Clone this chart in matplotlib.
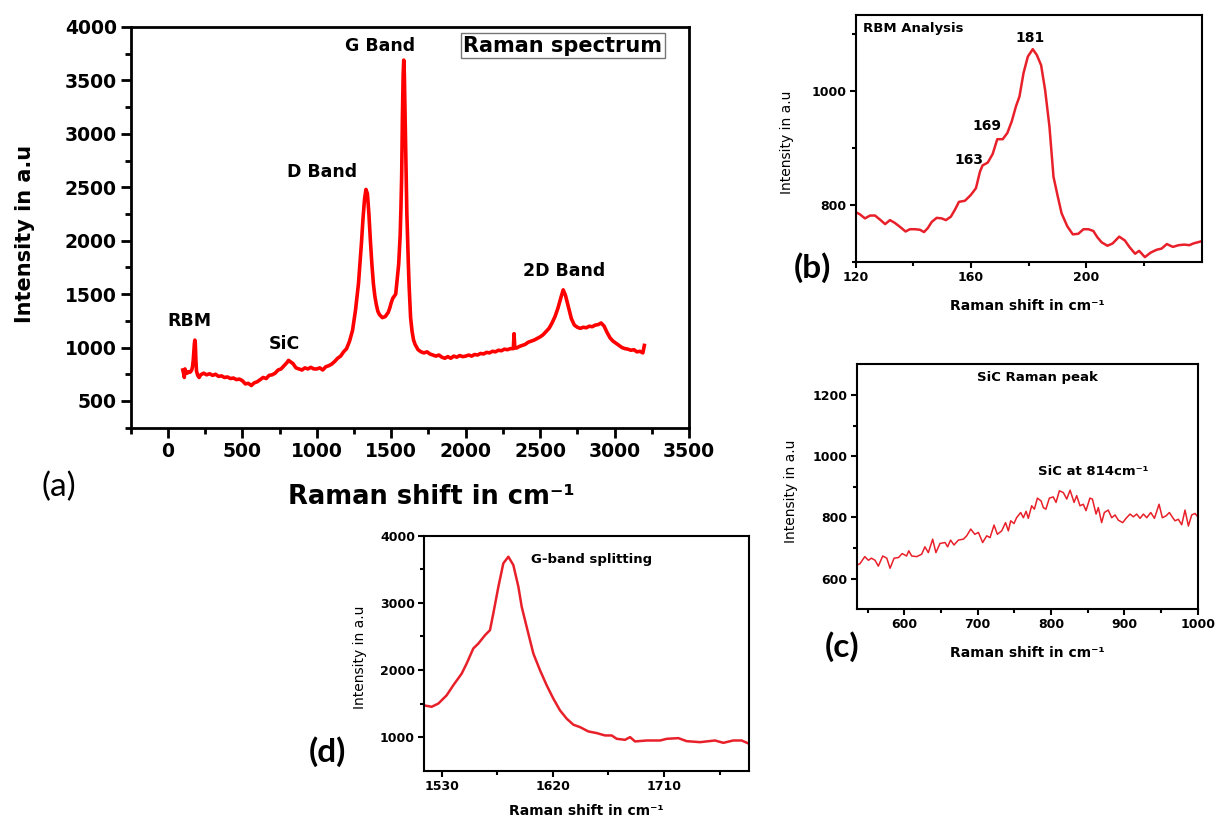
import matplotlib
matplotlib.use("Agg")
import matplotlib.pyplot as plt
from matplotlib.ticker import MultipleLocator, FixedLocator

# ---- data ----
# (a) full Raman spectrum
shift_a = [100, 105, 110, 115, 120, 130, 140, 150, 160, 165, 170, 175, 178, 181, 184, 188, 192,
           200, 210, 220, 240, 260, 280, 300, 320, 340, 360, 380, 400, 420, 440, 460, 480, 500,
           520, 540, 560, 580, 600, 620, 640, 660, 680, 700, 720, 740, 760, 780, 800, 810, 820,
           830, 840, 860, 880, 900, 920, 940, 960, 980, 1000, 1020, 1040, 1060, 1080, 1100, 1120,
           1140, 1160, 1180, 1200, 1220, 1240, 1260, 1280, 1300, 1310, 1320, 1330, 1340, 1350,
           1360, 1370, 1380, 1390, 1400, 1410, 1420, 1440, 1460, 1470, 1480, 1490, 1500, 1510,
           1520, 1530, 1540, 1550, 1560, 1565, 1570, 1575, 1580, 1584, 1588, 1592, 1596, 1600,
           1605, 1610, 1615, 1620, 1630, 1640, 1650, 1660, 1680, 1700, 1720, 1740, 1760, 1780,
           1800, 1820, 1840, 1860, 1880, 1900, 1920, 1940, 1960, 1980, 2000, 2020, 2040, 2060,
           2080, 2100, 2120, 2140, 2160, 2180, 2200, 2220, 2240, 2260, 2280, 2300, 2320, 2325,
           2330, 2340, 2360, 2380, 2400, 2420, 2440, 2460, 2480, 2500, 2520, 2540, 2560, 2580,
           2600, 2620, 2640, 2655, 2670, 2690, 2710, 2730, 2750, 2770, 2790, 2810, 2830, 2850,
           2870, 2890, 2910, 2930, 2950, 2970, 2990, 3010, 3030, 3050, 3070, 3090, 3110, 3130,
           3150, 3170, 3190, 3200]
inten_a = [790, 760, 720, 800, 770, 760, 775, 770, 790, 820, 880, 980, 1040, 1070, 1040, 880, 780,
           740, 720, 745, 760, 745, 755, 740, 750, 730, 735, 720, 725, 710, 715, 700, 705, 690,
           660, 665, 645, 670, 680, 700, 720, 710, 740, 745, 760, 790, 800, 830, 860, 880, 870,
           860, 850, 810, 800, 790, 810, 800, 815, 800, 800, 810, 790, 820, 830, 845, 870,
           900, 920, 960, 990, 1060, 1160, 1350, 1600, 1980, 2200, 2380, 2480, 2440, 2250,
           2000, 1780, 1600, 1480, 1400, 1340, 1310, 1280, 1290, 1310, 1330, 1370, 1420, 1460,
           1480, 1500, 1640, 1780, 2050, 2300, 2600, 3150, 3550, 3690, 3560, 3250, 2900, 2600,
           2250, 2000, 1780, 1580, 1280, 1150, 1070, 1030, 980, 960, 950, 960, 940, 930,
           920, 930, 910, 900, 915, 900, 920, 910, 925, 915, 920, 930, 920, 935,
           930, 945, 940, 955, 950, 965, 960, 975, 970, 985, 980, 990, 990, 1130,
           1000, 995, 1010, 1020, 1030, 1050, 1060, 1070, 1085, 1100, 1120, 1150, 1180, 1230,
           1290, 1370, 1470, 1540, 1490, 1380, 1270, 1210, 1190, 1180, 1190, 1185, 1200, 1195,
           1210, 1215, 1230, 1200, 1140, 1090, 1060, 1040, 1020, 1000, 990, 985, 975, 980,
           960, 965, 950, 1020]

# (b) RBM region
shift_b = [120, 121.5, 123.2, 125, 126.7, 128.4, 130.2, 131.9, 133.6, 135.4, 137.3, 138.8, 140.6,
           142.3, 143.7, 145, 146.4, 148.1, 149.8, 151.3, 153, 154.5, 155.8, 157.9, 159.9, 161.7,
           163.1, 164, 165.8, 167.5, 169.1, 171, 172.6, 174.1, 175.6, 176.8, 178.2, 179.7, 181.4,
           182.8, 184.3, 185.7, 187.2, 188.6, 190.1, 191.4, 193.4, 195.3, 197.2, 199, 200.7, 202.4,
           203.8, 205.3, 207.3, 209.1, 211.4, 213.4, 214.9, 216.9, 218.3, 220.3, 222.3, 224.4,
           226.1, 227.9, 230, 232, 234, 235.7, 237.1, 240]
inten_b = [787, 783, 776, 781, 781, 774, 766, 773, 768, 761, 753, 757, 757,
           756, 752, 759, 770, 777, 776, 773, 779, 792, 805, 807, 817, 829,
           858, 869, 874, 889, 915, 915, 926, 946, 973, 990, 1031, 1060, 1073,
           1063, 1045, 1001, 937, 849, 814, 785, 762, 748, 749, 757, 757, 754,
           743, 734, 728, 732, 744, 737, 726, 714, 719, 708, 716, 721,
           723, 731, 726, 729, 730, 729, 732, 736]

# (c) SiC region
shift_c = [535, 539.5, 546, 551, 555, 560, 564.5, 570.5, 576, 580.5, 586, 592, 597, 603, 606, 610,
           617, 623.6, 628, 632.7, 638.6, 643, 648.6, 655.5, 659, 663, 667.7, 673.6, 680.5, 685,
           690.5, 696, 701, 706.8, 712.3, 716.8, 722.3, 726.8, 732.7, 738, 741.8, 745, 749.5, 753,
           758.6, 762.3, 766, 769, 773.6, 777.3, 781.4, 786.4, 789.5, 793, 797.7, 803, 806.8,
           811.4, 816.8, 821.4, 826, 831.4, 835, 839.5, 844, 847.7, 853, 856.4, 861.4, 864.5,
           869, 872.7, 878, 882.7, 887.3, 891.8, 897.7, 902.3, 907.7, 912.3, 916.8, 921.4, 926,
           930.5, 936, 941, 947.3, 951.8, 956.8, 961.4, 966, 969.1, 973.6, 978.2, 982.7, 987.3,
           991.8, 996.4, 1001]
inten_c = [644, 649, 672, 660, 667, 660, 641, 674, 667, 634, 667, 669, 682, 674, 691, 674,
           672, 680, 704, 685, 729, 685, 715, 718, 704, 726, 710, 726, 729, 740,
           762, 745, 751, 718, 740, 734, 775, 745, 756, 783, 756, 789, 780, 799,
           816, 799, 820, 797, 838, 827, 863, 854, 832, 827, 863, 867, 849,
           887, 881, 860, 889, 849, 871, 838, 843, 822, 863, 860, 811, 832,
           783, 816, 824, 799, 808, 791, 783, 797, 811, 802, 811, 797, 811,
           799, 816, 797, 843, 799, 805, 816, 799, 789, 794, 776, 824, 772,
           808, 813, 799]

# (d) G band region
shift_d = [1515.7, 1521.9, 1527.3, 1534, 1539.4, 1546.2, 1550.2, 1555.6, 1559.7, 1565.1, 1569.1,
           1571.8, 1575.9, 1579.9, 1584, 1588, 1592.1, 1594.8, 1598.8, 1604.2, 1609.6, 1615,
           1620.4, 1625.8, 1631.2, 1636.6, 1642, 1648.7, 1655.5, 1662.2, 1667.6, 1671.7, 1678.4,
           1682.5, 1686.5, 1696, 1706.8, 1712.2, 1721.6, 1728.3, 1739.1, 1751.2, 1758, 1766,
           1772.8, 1779]
inten_d = [1473, 1452, 1500, 1622, 1772, 1946, 2095, 2320, 2394, 2518, 2593,
           2842, 3239, 3588, 3687, 3563, 3239, 2940, 2642, 2245, 1996, 1772,
           1573, 1398, 1275, 1185, 1149, 1085, 1060, 1025, 1025, 975, 960,
           1000, 936, 950, 950, 975, 985, 940, 925, 950, 915, 950,
           950, 900]

band_labels = ["RBM", "SiC", "D Band", "G Band", "2D Band"]
band_pos = [(147, 1246), (779, 1031), (1035, 2642), (1425, 3822), (2663, 1715)]
rbm_labels = ["163", "169", "181"]
rbm_pos = [(159.3, 878), (165.5, 938), (180.5, 1093)]

W, H = 1216, 821
RED = "#ff0000"
RED2 = "#e8202a"
XLAB = "Raman shift in cm\u207b\u00b9"
YLAB = "Intensity in a.u"

plt.rcParams["font.family"] = ["DejaVu Sans"]


def box(l, t, r, b):
    # pixel box -> figure fraction rect
    return [l / W, 1 - b / H, (r - l) / W, (b - t) / H]


def style(ax, lw, maj, mnr, fs):
    for s in ax.spines.values():
        s.set_linewidth(lw)
    ax.tick_params(which="major", direction="out", length=maj, width=lw, labelsize=fs, pad=2.5)
    ax.tick_params(which="minor", direction="out", length=mnr, width=lw)
    for lab in ax.get_xticklabels() + ax.get_yticklabels():
        lab.set_fontweight("bold")


fig = plt.figure(figsize=(W / 100, H / 100), dpi=100)

# ---- (a) ----
ax = fig.add_axes(box(130.7, 27, 689, 427.7))
ax.plot(shift_a, inten_a, color=RED, lw=2.6)
ax.set_xlim(-250, 3500)
ax.set_ylim(250, 4000)
ax.xaxis.set_major_locator(MultipleLocator(500))
ax.xaxis.set_minor_locator(MultipleLocator(250))
ax.yaxis.set_major_locator(MultipleLocator(500))
ax.yaxis.set_minor_locator(MultipleLocator(250))
ax.set_xticks(range(0, 3501, 500))
ax.set_yticks(range(500, 4001, 500))
style(ax, 2.0, 7.5, 4, 13.5)
ax.set_xlabel(XLAB, fontsize=18.5, fontweight="bold", va="center")
ax.xaxis.set_label_coords(0.538, -0.173)
ax.set_ylabel(YLAB, fontsize=15, fontweight="bold", va="center")
ax.yaxis.set_label_coords(-0.19, 0.483)
for lab, (x, y) in zip(band_labels, band_pos):
    ax.text(x, y, lab, fontsize=12.5, fontweight="bold", ha="center", va="center")
ax.text(0.774, 0.953, "Raman spectrum", transform=ax.transAxes, fontsize=15,
        fontweight="bold", ha="center", va="center",
        bbox=dict(boxstyle="square,pad=0.12", fc="white", ec="#777777", lw=1))

# ---- (b) ----
bx = fig.add_axes(box(855.7, 15, 1201.7, 261.7))
bx.plot(shift_b, inten_b, color=RED2, lw=1.8)
bx.set_xlim(120, 240)
bx.set_ylim(700, 1133)
bx.set_xticks([120, 160, 200])
bx.xaxis.set_minor_locator(FixedLocator([140, 180, 220]))
bx.set_yticks([800, 1000])
bx.yaxis.set_minor_locator(FixedLocator([700, 900, 1100]))
style(bx, 1.5, 4, 3, 9)
bx.set_xlabel(XLAB, fontsize=10, fontweight="bold", va="center")
bx.xaxis.set_label_coords(0.495, -0.18)
bx.set_ylabel(YLAB, fontsize=10, va="center")
bx.yaxis.set_label_coords(-0.199, 0.485)
bx.text(139.9, 1110, "RBM Analysis", fontsize=9.5, fontweight="bold", ha="center", va="center")
for lab, (x, y) in zip(rbm_labels, rbm_pos):
    bx.text(x, y, lab, fontsize=10, fontweight="bold", ha="center", va="center")

# ---- (c) ----
cx = fig.add_axes(box(856.7, 364.3, 1197.7, 609.3))
cx.plot(shift_c, inten_c, color=RED2, lw=1.1)
cx.set_xlim(535, 1000)
cx.set_ylim(500, 1300)
cx.set_xticks([600, 700, 800, 900, 1000])
cx.xaxis.set_minor_locator(FixedLocator([550, 650, 750, 850, 950]))
cx.set_yticks([600, 800, 1000, 1200])
cx.yaxis.set_minor_locator(FixedLocator([700, 900, 1100]))
style(cx, 1.5, 4, 3, 9)
cx.set_xlabel(XLAB, fontsize=10, fontweight="bold", va="center")
cx.xaxis.set_label_coords(0.499, -0.178)
cx.set_ylabel(YLAB, fontsize=10, va="center")
cx.yaxis.set_label_coords(-0.193, 0.483)
cx.text(781.5, 1257, "SiC Raman peak", fontsize=9.5, fontweight="bold", ha="center", va="center")
cx.text(857, 950, "SiC at 814cm\u207b\u00b9", fontsize=9.5, fontweight="bold", ha="center", va="center")

# ---- (d) ----
dx = fig.add_axes(box(424, 535.7, 749.3, 770.7))
dx.plot(shift_d, inten_d, color=RED2, lw=1.8)
dx.set_xlim(1515.7, 1779)
dx.set_ylim(500, 4000)
dx.set_xticks([1530, 1620, 1710])
dx.xaxis.set_minor_locator(FixedLocator([1575, 1665, 1755]))
dx.set_yticks([1000, 2000, 3000, 4000])
dx.yaxis.set_minor_locator(FixedLocator([1500, 2500, 3500]))
style(dx, 1.5, 4, 3, 9)
dx.set_xlabel(XLAB, fontsize=10, fontweight="bold", va="center")
dx.xaxis.set_label_coords(0.5, -0.171)
dx.set_ylabel(YLAB, fontsize=10, va="center")
dx.yaxis.set_label_coords(-0.197, 0.482)
dx.text(1651, 3652, "G-band splitting", fontsize=9.5, fontweight="bold", ha="center", va="center")

# panel letters
for lab, (px, py), wt in [("(a)", (59, 487), "normal"), ("(b)", (812, 268), "bold"),
                          ("(c)", (842, 647), "bold"), ("(d)", (327, 752), "bold")]:
    fig.text(px / W, 1 - py / H, lab, fontsize=24, fontweight=wt, family=["Lato", "DejaVu Sans"],
             ha="center", va="center")

fig.savefig("out.png", dpi=100)
